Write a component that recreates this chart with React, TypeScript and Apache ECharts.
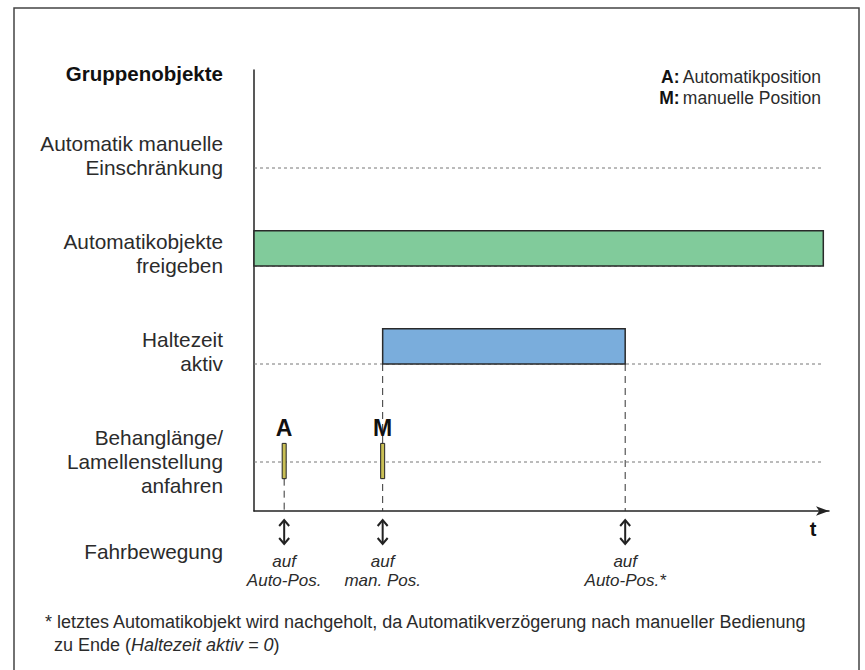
import React, { useEffect, useRef } from "react";
import * as echarts from "echarts";

// ---- data ----
const rowLabels = [
  "Automatik manuelle\nEinschränkung",
  "Automatikobjekte\nfreigeben",
  "Haltezeit\naktiv",
  "Behanglänge/\nLamellenstellung\nanfahren",
];
const rowLevels = [3.5, 2.5, 1.5, 0.5];
const headerLabel = "Gruppenobjekte";
const moveRowLabel = "Fahrbewegung";

// active spans: [start, end, rowLevel]
const releaseSpan = [0, 100, 2.5]; // Automatikobjekte freigeben
const holdSpan = [22.6, 65.2, 1.5]; // Haltezeit aktiv
const spanHeight = 0.36;

// position pulses: [time, bottom, top]
const pulseTimes = [5.3, 22.6];
const pulseNames = ["A", "M"];
const pulseBottom = 0.33;
const pulseTop = 0.69;

// dashed guide lines: [time, fromLevel]
const guideTimes = [5.3, 22.6, 65.2];
const guideTops = [0.33, 1.5, 1.5];

// movements
const moveTimes = [5.3, 22.6, 65.2];
const moveLabels = ["auf\nAuto-Pos.", "auf\nman. Pos.", "auf\nAuto-Pos.*"];

const legendLines = [
  ["A:", "Automatikposition"],
  ["M:", "manuelle Position"],
];
const footnote1 =
  "* letztes Automatikobjekt wird nachgeholt, da Automatikverzögerung nach manueller Bedienung";
const footnote2a = "zu Ende (";
const footnote2b = "Haltezeit aktiv = 0";
const footnote2c = ")";

const FONT = "'Liberation Sans', Arial, Helvetica, sans-serif";
const TXT = "#2b2b2b";

export default function App() {
  const ref = useRef<HTMLDivElement>(null);
  useEffect(() => {
    if (!ref.current) return;
    const chart = echarts.init(ref.current, undefined, { renderer: "svg" });

    const option: any = {
      animation: false,
      backgroundColor: "#ffffff",
      grid: { left: 254, right: 36, top: 70, bottom: 159 },
      xAxis: {
        type: "value",
        min: 0,
        max: 101,
        axisLine: {
          show: true,
          onZero: false,
          symbol: ["none", "arrow"],
          symbolSize: [7, 13],
          lineStyle: { color: "#222", width: 1.5 },
        },
        axisTick: { show: false },
        axisLabel: { show: false },
        splitLine: { show: false },
      },
      yAxis: {
        type: "value",
        min: 0,
        max: 4.5,
        axisLine: { show: true, onZero: false, lineStyle: { color: "#222", width: 1.5 } },
        axisTick: { show: false },
        axisLabel: { show: false },
        splitLine: { show: false },
      },
      series: [
        // dotted row lines
        {
          type: "custom",
          silent: true,
          data: rowLevels.map((l) => [0, 100, l]),
          renderItem: (p: any, api: any) => {
            const a = api.coord([api.value(0), api.value(2)]);
            const b = api.coord([api.value(1), api.value(2)]);
            return {
              type: "line",
              shape: { x1: a[0], y1: a[1], x2: b[0], y2: b[1] },
              style: { stroke: "#777", lineWidth: 1, lineDash: [3, 3] },
            };
          },
        },
        // dashed guides
        {
          type: "custom",
          silent: true,
          data: guideTimes.map((t, i) => [t, guideTops[i]]),
          renderItem: (p: any, api: any) => {
            const a = api.coord([api.value(0), api.value(1)]);
            const b = api.coord([api.value(0), 0]);
            return {
              type: "line",
              shape: { x1: a[0], y1: a[1], x2: b[0], y2: b[1] },
              style: { stroke: "#333", lineWidth: 1, lineDash: [7, 5] },
            };
          },
        },
        // spans
        {
          type: "custom",
          silent: true,
          data: [releaseSpan, holdSpan],
          renderItem: (p: any, api: any) => {
            const a = api.coord([api.value(0), api.value(2) + spanHeight]);
            const b = api.coord([api.value(1), api.value(2)]);
            const colors = ["#81cb9b", "#7aaddc"];
            return {
              type: "rect",
              shape: { x: a[0], y: a[1], width: b[0] - a[0], height: b[1] - a[1] },
              style: { fill: colors[p.dataIndex], stroke: "#2a2a2a", lineWidth: 1.5 },
            };
          },
        },
        // pulses
        {
          type: "custom",
          silent: true,
          data: pulseTimes.map((t) => [t, pulseBottom, pulseTop]),
          renderItem: (p: any, api: any) => {
            const a = api.coord([api.value(0), api.value(2)]);
            const b = api.coord([api.value(0), api.value(1)]);
            return {
              type: "group",
              children: [
                {
                  type: "rect",
                  shape: { x: a[0] - 2, y: a[1], width: 4, height: b[1] - a[1] },
                  style: { fill: "#c9bf55", stroke: "#222", lineWidth: 1 },
                },
                {
                  type: "text",
                  x: a[0],
                  y: a[1] - 4,
                  style: {
                    text: pulseNames[p.dataIndex],
                    fill: "#111",
                    fontSize: 23,
                    fontWeight: "bold",
                    fontFamily: FONT,
                    align: "center",
                    verticalAlign: "bottom",
                  },
                },
              ],
            };
          },
        },
        // movement arrows
        {
          type: "custom",
          silent: true,
          data: moveTimes.map((t) => [t, 0]),
          renderItem: (p: any, api: any) => {
            const c = api.coord([api.value(0), 0]);
            const x = c[0];
            const y0 = c[1] + 9;
            const y1 = c[1] + 33;
            const lines = moveLabels[p.dataIndex].split("\n");
            return {
              type: "group",
              children: [
                {
                  type: "line",
                  shape: { x1: x, y1: y0, x2: x, y2: y1 },
                  style: { stroke: "#222", lineWidth: 2 },
                },
                {
                  type: "polyline",
                  shape: { points: [[x - 5, y0 + 6], [x, y0], [x + 5, y0 + 6]] },
                  style: { stroke: "#222", lineWidth: 2, fill: "none" },
                },
                {
                  type: "polyline",
                  shape: { points: [[x - 5, y1 - 6], [x, y1], [x + 5, y1 - 6]] },
                  style: { stroke: "#222", lineWidth: 2, fill: "none" },
                },
                ...lines.map((s, i) => ({
                  type: "text",
                  x,
                  y: c[1] + 50 + i * 19,
                  style: {
                    text: s,
                    fill: TXT,
                    fontSize: 17,
                    fontStyle: "italic",
                    fontFamily: FONT,
                    align: "center",
                    verticalAlign: "middle",
                  },
                })),
              ],
            };
          },
        },
        // row labels
        {
          type: "custom",
          silent: true,
          data: rowLevels.map((l) => [0, l]),
          renderItem: (p: any, api: any) => {
            const c = api.coord([0, api.value(1)]);
            const lines = rowLabels[p.dataIndex].split("\n");
            const anchor = Math.floor(lines.length / 2);
            return {
              type: "group",
              children: lines.map((s, i) => ({
                type: "text",
                x: c[0] - 31,
                y: c[1] + (i - anchor) * 24 - 1,
                style: {
                  text: s,
                  fill: TXT,
                  fontSize: 20.8,
                  fontFamily: FONT,
                  align: "right",
                  verticalAlign: "middle",
                },
              })),
            };
          },
        },
      ],
      graphic: [
        {
          type: "rect",
          shape: { x: 14, y: 8, width: 845, height: 700 },
          style: { fill: "none", stroke: "#444", lineWidth: 1.5 },
          silent: true,
        },
        {
          type: "text",
          x: 223,
          y: 73,
          style: {
            text: headerLabel,
            fill: "#111",
            fontSize: 20.5,
            fontWeight: "bold",
            fontFamily: FONT,
            align: "right",
            verticalAlign: "middle",
          },
        },
        {
          type: "text",
          x: 223,
          y: 551,
          style: {
            text: moveRowLabel,
            fill: TXT,
            fontSize: 20.8,
            fontFamily: FONT,
            align: "right",
            verticalAlign: "middle",
          },
        },
        {
          type: "text",
          x: 813,
          y: 529,
          style: {
            text: "t",
            fill: "#111",
            fontSize: 20,
            fontWeight: "bold",
            fontFamily: FONT,
            align: "center",
            verticalAlign: "middle",
          },
        },
        ...legendLines.map((l, i) => ({
          type: "text",
          x: 821,
          y: 77 + i * 21,
          style: {
            text: `{b|${l[0]}} {n|${l[1]}}`,
            align: "right",
            verticalAlign: "middle",
            rich: {
              b: { fontSize: 17.5, fontWeight: "bold", fontFamily: FONT, fill: "#111" },
              n: { fontSize: 17.5, fontFamily: FONT, fill: TXT },
            },
          },
        })),
        {
          type: "text",
          x: 45,
          y: 622,
          style: {
            text: footnote1,
            fill: TXT,
            fontSize: 18,
            fontFamily: FONT,
            align: "left",
            verticalAlign: "middle",
          },
        },
        {
          type: "text",
          x: 54,
          y: 645,
          style: {
            text: `{n|${footnote2a}}{i|${footnote2b}}{n|${footnote2c}}`,
            align: "left",
            verticalAlign: "middle",
            rich: {
              n: { fontSize: 18, fontFamily: FONT, fill: TXT },
              i: { fontSize: 18, fontFamily: FONT, fontStyle: "italic", fill: TXT },
            },
          },
        },
      ],
    };

    chart.setOption(option);
    return () => chart.dispose();
  }, []);

  return (
    <div
      ref={ref}
      style={{ position: "fixed", left: 0, top: 0, width: 865, height: 670 }}
    />
  );
}
